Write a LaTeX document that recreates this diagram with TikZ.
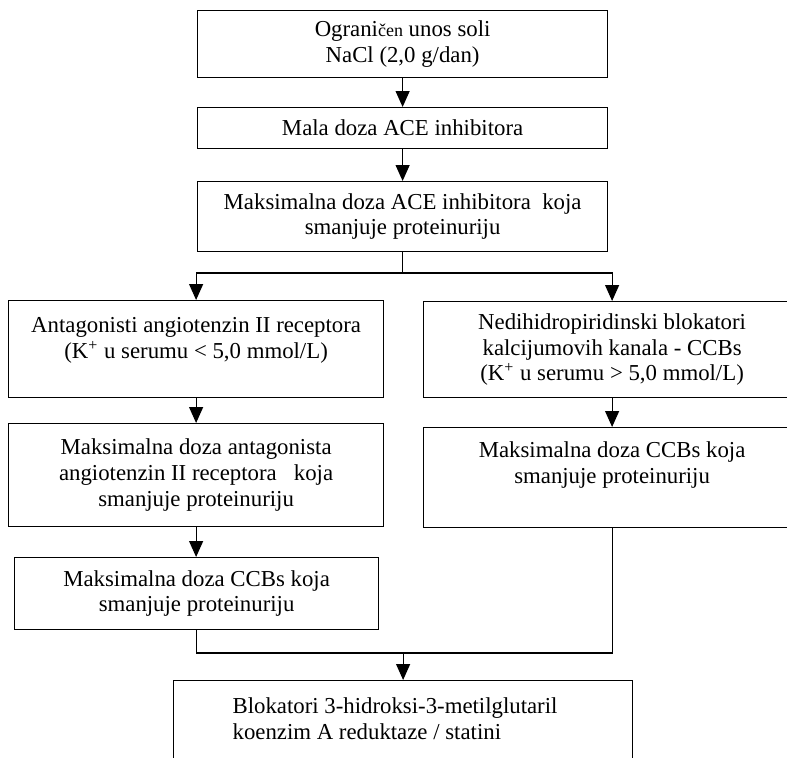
\documentclass[tikz,border=0pt]{standalone}
\usepackage{fontspec}
\setmainfont{Liberation Serif}
\usetikzlibrary{arrows.meta,positioning}
\tikzset{%
	process/.style = {draw, rectangle, inner sep=0pt, line width=0.6bp, anchor=north west},
	arrow/.style   = {line width=0.6bp, -{Triangle[width=7bp,length=8bp]}},
	link/.style    = {line width=0.6bp},
}
\newcommand{\boxc}[3]{\parbox[c][#2][c]{#1}{\centering #3}}
\newcommand{\boxt}[4]{\parbox[c][#2][t]{#1}{\vspace*{#3}\centering #4}}

\begin{document}
\begin{tikzpicture}[x=0.5bp,y=-0.5bp,font=\fontsize{11.4bp}{12.8bp}\selectfont]
		\useasboundingbox (0,0) rectangle (787,758);
		
		% top chain
		\node[process] (salt) at (197,10) {\boxc{205bp}{33.5bp}{Ograni{\fontsize{9bp}{9bp}\selectfont čen} unos soli\\NaCl (2,0 g/dan)}};
		\node[process] (lowace) at (197,107) {\boxc{205bp}{20.5bp}{Mala doza ACE inhibitora}};
		\node[process] (maxace) at (197,181) {\boxc{205bp}{35bp}{Maksimalna doza ACE inhibitora\ \ koja\\smanjuje proteinuriju}};
		
		% two branches
		\node[process] (arb) at (8,300) {\boxt{187.5bp}{48.5bp}{8.5bp}{Antagonisti angiotenzin II receptora\\(K\textsuperscript{+} u serumu < 5,0 mmol/L)}};
		\node[process] (ccb) at (423,301) {\boxc{188.5bp}{48bp}{Nedihidropiridinski blokatori\\kalcijumovih kanala - CCBs\\(K\textsuperscript{+} u serumu > 5,0 mmol/L)}};
		\node[process] (maxarb) at (8,423) {\boxc{187.5bp}{51.5bp}{Maksimalna doza antagonista\\angiotenzin II receptora\ \ \ koja\\smanjuje proteinuriju}};
		\node[process] (maxccbR) at (423,427) {\boxt{188.5bp}{50bp}{7bp}{Maksimalna doza CCBs koja\\smanjuje proteinuriju}};
		\node[process] (maxccbL) at (14,557) {\boxc{182bp}{36bp}{Maksimalna doza CCBs koja\\smanjuje proteinuriju}};
		
		% last step
		\node[process] (statin) at (173,680) {\parbox[c][60bp][t]{229.5bp}{\vspace*{8.5bp}\leftskip=29.5bp Blokatori 3-hidroksi-3-metilglutaril\\koenzim A reduktaze / statini}};
		
		\coordinate (split) at (maxace.south |- 0,273);
		\coordinate (join) at (statin.north |- 0,653);
		
		\draw[arrow] (salt.south) -- (lowace.north);
		\draw[arrow] (lowace.south) -- (maxace.north);
		\draw[link] (maxace.south) -- (split);
		\draw[arrow] (split) -| (arb.north);
		\draw[arrow] (split) -| (ccb.north);
		\draw[arrow] (arb.south) -- (maxarb.north);
		\draw[arrow] (ccb.south) -- (maxccbR.north);
		\draw[arrow] (maxarb.south) -- (maxarb.south |- maxccbL.north);
		\draw[link] (maxccbL.south) |- (join) -| (maxccbR.south);
		\draw[arrow] (join) -- (statin.north);
\end{tikzpicture}
\end{document}
